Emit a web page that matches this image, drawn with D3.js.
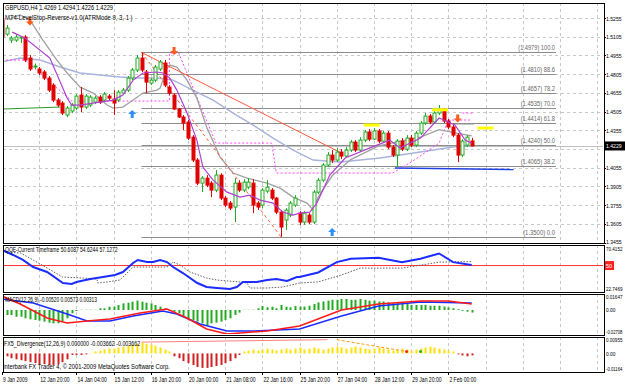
<!DOCTYPE html>
<html><head><meta charset="utf-8">
<script src="https://cdn.jsdelivr.net/npm/d3@7"></script>
<style>body{margin:0;background:#fff}svg{display:block}text{font-family:"Liberation Sans",Arial,sans-serif}</style>
</head><body><svg id="c" width="625" height="384"></svg>
<script>
// ---------- DATA ----------
const symbolLine = "GBPUSD,H4  1.4269 1.4294 1.4226 1.4229";
const indicatorLine = "MT4-LevelStop-Reverse-v1.0(ATRMode 9, 3, 1 )";
const timeLabels = ["9 Jan 2009","12 Jan 20:00","14 Jan 04:00","15 Jan 12:00","16 Jan 20:00","20 Jan 00:00","21 Jan 08:00","22 Jan 16:00","25 Jan 20:00","27 Jan 04:00","28 Jan 12:00","29 Jan 20:00","2 Feb 00:00"];
const priceTicks = [1.3455,1.3605,1.3755,1.3905,1.4055,1.4205,1.4355,1.4505,1.4655,1.4805,1.4955,1.5105,1.5255];
const lastPrice = 1.4229;

const opens = [1.5239,1.5126,1.5078,1.5078,1.5094,1.5102,1.4934,1.4862,1.4846,1.4822,1.4773,1.4717,1.4597,1.4573,1.4477,1.4509,1.4533,1.4637,1.4541,1.4557,
1.4581,1.4621,1.4597,1.4629,1.4605,1.4597,1.4653,1.4677,1.4773,1.4838,1.4934,1.4822,1.4733,1.4757,1.4846,1.4894,1.4701,1.4637,1.4525,1.4461,
1.4421,1.4300,1.4116,1.3931,1.3971,1.3931,1.3875,1.3995,1.3811,1.3771,1.3739,1.3931,1.3875,1.3899,1.3931,1.3771,1.3755,1.3867,1.3875,1.3811,
1.3699,1.3635,1.3675,1.3755,1.3691,1.3619,1.3675,1.3619,1.3859,1.3955,1.4076,1.4156,1.4116,1.4180,1.4148,1.4196,1.4260,1.4196,1.4276,1.4341,
1.4284,1.4349,1.4268,1.4332,1.4220,1.4156,1.4268,1.4204,1.4292,1.4236,1.4332,1.4413,1.4469,1.4421,1.4493,1.4517,1.4429,1.4381,1.4316,1.4156,
1.4236,1.4269];
const highs = [1.5263,1.5199,1.5110,1.5126,1.5110,1.5118,1.4958,1.4890,1.4862,1.4838,1.4790,1.4733,1.4613,1.4589,1.4549,1.4573,1.4645,1.4701,1.4645,1.4637,
1.4629,1.4637,1.4661,1.4645,1.4677,1.4677,1.4693,1.4790,1.4854,1.4958,1.4979,1.4838,1.4773,1.4878,1.4918,1.4918,1.4717,1.4653,1.4533,1.4477,
1.4437,1.4316,1.4132,1.3987,1.3995,1.3947,1.4036,1.4010,1.3827,1.3787,1.3971,1.3955,1.3963,1.3971,1.3963,1.3787,1.3891,1.3955,1.3891,1.3819,
1.3715,1.3731,1.3787,1.3835,1.3707,1.3707,1.3691,1.3875,1.3971,1.4092,1.4180,1.4196,1.4212,1.4204,1.4220,1.4276,1.4276,1.4300,1.4357,1.4365,
1.4373,1.4365,1.4349,1.4349,1.4236,1.4284,1.4292,1.4316,1.4316,1.4349,1.4429,1.4493,1.4485,1.4517,1.4557,1.4533,1.4445,1.4397,1.4332,1.4284,
1.4316,1.4294];
const lows = [1.5086,1.5110,1.5054,1.5062,1.5054,1.4902,1.4830,1.4846,1.4798,1.4757,1.4661,1.4581,1.4541,1.4477,1.4461,1.4493,1.4517,1.4501,1.4525,1.4541,
1.4565,1.4565,1.4581,1.4597,1.4477,1.4581,1.4645,1.4661,1.4757,1.4822,1.4822,1.4653,1.4717,1.4741,1.4830,1.4701,1.4637,1.4517,1.4453,1.4357,
1.4276,1.4100,1.3915,1.3859,1.3899,1.3819,1.3859,1.3795,1.3739,1.3715,1.3619,1.3859,1.3859,1.3883,1.3691,1.3715,1.3731,1.3851,1.3795,1.3683,
1.3500,1.3554,1.3659,1.3739,1.3595,1.3595,1.3603,1.3603,1.3843,1.3939,1.4060,1.4092,1.4100,1.4124,1.4132,1.4180,1.4180,1.4180,1.4260,1.4268,
1.4276,1.4252,1.4252,1.4204,1.4140,1.4060,1.4188,1.4188,1.4220,1.4220,1.4316,1.4397,1.4405,1.4405,1.4477,1.4413,1.4365,1.4300,1.4100,1.4140,
1.4220,1.4226];
const closes = [1.5102,1.5174,1.5094,1.5102,1.5102,1.4918,1.4846,1.4870,1.4814,1.4773,1.4677,1.4597,1.4557,1.4493,1.4533,1.4557,1.4629,1.4541,1.4629,1.4621,
1.4613,1.4581,1.4645,1.4613,1.4573,1.4661,1.4677,1.4773,1.4838,1.4934,1.4838,1.4741,1.4757,1.4862,1.4902,1.4717,1.4653,1.4525,1.4461,1.4413,
1.4292,1.4116,1.3931,1.3971,1.3915,1.3875,1.3996,1.3811,1.3755,1.3731,1.3931,1.3875,1.3939,1.3939,1.3755,1.3739,1.3875,1.3899,1.3811,1.3699,
1.3579,1.3715,1.3771,1.3811,1.3619,1.3691,1.3619,1.3859,1.3955,1.4076,1.4156,1.4116,1.4180,1.4148,1.4196,1.4260,1.4196,1.4276,1.4341,1.4284,
1.4349,1.4268,1.4332,1.4220,1.4156,1.4268,1.4204,1.4292,1.4236,1.4332,1.4413,1.4469,1.4421,1.4493,1.4517,1.4429,1.4381,1.4316,1.4156,1.4268,
1.4300,1.4229];

// overlay lines as [bar, price]
const maGray = [[1.7,1.5239],[2.4,1.5263],[3.9,1.5279],[6,1.5239],[8.8,1.5078],[11.8,1.4918],[14,1.4814],[16.8,1.4701],[19.6,1.4653],[22.6,1.4557],[23.9,1.4533],[26,1.4541],[28.2,1.4597],[30.3,1.4653],[33.3,1.4677],[34,1.4693],[35.5,1.4854],[36.1,1.4878],[37.6,1.4862],[39.8,1.4757],[41.9,1.4613],[44,1.4381],[46.9,1.4140],[49.7,1.4012],[52.7,1.3971],[57,1.3931],[59.8,1.3891],[62.6,1.3819],[65.6,1.3771],[66.9,1.3715],[68,1.3819],[71,1.3990],[75,1.4120],[81,1.4230],[86,1.4270],[90,1.4300],[94,1.4360],[98,1.4330],[101,1.4310]];
const maPurple = [[2.2,1.5142],[4.9,1.5094],[10.3,1.4934],[14,1.4613],[15,1.4557],[16.8,1.4557],[21,1.4581],[23.9,1.4597],[26,1.4637],[28.2,1.4757],[30.3,1.4814],[33.3,1.4822],[34.6,1.4814],[36.1,1.4773],[37.6,1.4677],[39.8,1.4493],[41.9,1.4276],[43.2,1.4060],[45.4,1.3955],[48.4,1.3859],[51.2,1.3819],[53.3,1.3835],[55.5,1.3795],[58.3,1.3771],[60.4,1.3699],[62.6,1.3675],[64,1.3691],[66.2,1.3699],[67.7,1.3771],[70.5,1.3996],[73.8,1.4132],[79,1.4212],[83.4,1.4276],[85.6,1.4212],[90,1.4292],[94,1.4453],[97.4,1.4397],[99.6,1.4276],[101,1.4252]];
const maBlue = [[0,1.4902],[3.9,1.4934],[8.2,1.4918],[12.5,1.4862],[16.8,1.4814],[21,1.4798],[25.4,1.4781],[29.7,1.4773],[33.3,1.4773],[36.8,1.4757],[41,1.4677],[45.4,1.4597],[49.7,1.4493],[54,1.4397],[58.3,1.4292],[62.6,1.4196],[66.9,1.4116],[72.7,1.4100],[81.3,1.4132],[90,1.4180],[97,1.4220],[101,1.4228]];
const levelStop = [[0,1.4918],[5,1.4918],[15,1.4589],[36,1.4589],[36,1.4974],[38,1.4974],[46,1.4252],[58,1.4252],[59,1.4012],[72,1.4012],[84,1.4012],[88,1.4100],[94,1.4252],[96,1.4437],[101,1.4437]];
const trendLine = [[30,1.4979],[73,1.4172]];
const zigzag = [[30,1.4979],[60,1.3500]];
const supportLine = [[84.5,1.4052],[110,1.4040]];
const leftGreenLine = [[0,1.4525],[12.5,1.4541]];
const grayStub = [[97,1.4405],[101.5,1.4405]];
const pinkStub = [[99,1.4493],[101.5,1.4493]];

const fibPrices = [1.4979,1.4810,1.4657,1.4535,1.4414,1.4240,1.4065,1.3500];
const fibNames = ["100.0","88.6","78.2","70.0","61.8","50.0","38.2","0.0"];

const downArrows = [[6,1.5227],[37,1.4990],[98,1.4449]];
const upArrows = [[28,1.4485],[71,1.3540]];
const yellowMarks = [[79.5,1.4397],[94.2,1.4519],[104,1.4373]];

// QQE panel
const qqeTitle = "QQE-Current Timeframe 50.6087 54.6244 57.1272";
const qqeRange = [22.7469, 70.4152];
const qqeFast = [[0,68.1],[2.4,62.3],[4.5,56.5],[6.7,48.3],[9.7,42.5],[13.1,29.7],[15,28.6],[16,30.9],[19,34.4],[21.7,36.7],[24.3,39.0],[26,42.5],[28.2,53.0],[29.2,56.5],[31.2,54.1],[32.5,54.1],[34,56.5],[35.5,54.1],[36.8,48.3],[38.9,41.3],[42,29.7],[44,25.1],[46.2,23.9],[49,22.7],[50.5,25.1],[51.8,30.9],[54.8,30.9],[57,33.2],[59,34.4],[61.3,32.0],[63.4,36.7],[64,36.7],[68,42],[72,54],[75,58],[81,59],[86,54],[90,58],[94,64],[97,54],[101,50.6]];
const qqeSlow = [[0,66],[4,64.6],[6.7,56.5],[9.7,47.2],[13,36.7],[17.4,35.5],[20.4,34.4],[20.6,29.7],[22.6,30.9],[25.4,33.2],[26.9,41.3],[28.2,48.3],[33.3,48.3],[35.5,48.3],[36.8,54.1],[38.3,50.6],[40.4,42.5],[44,35.5],[46.2,33.2],[51.2,30.9],[52.7,29.7],[53.3,23.9],[57,23.9],[60.4,25.1],[64,29.7],[68,31],[73,39],[77,47],[86,47],[94,54],[101,54.6]];

// MACD panel
const macdTitle = "MACD(12,26,9) -0.00520 0.00573 0.00313";
const macdRange = [-0.02708, 0.01647];
const macdHist = [-0.0039,-0.0059,-0.0059,-0.0079,-0.0079,-0.0098,-0.0110,-0.0118,-0.0126,-0.0137,-0.0149,-0.0157,-0.0157,-0.0137,-0.0098,-0.0039,-0.0012,0.0003,0.0003,0.0003,
0.0003,0.0020,0.0020,0.0039,0.0039,0.0059,0.0078,0.0086,0.0098,0.0110,0.0098,0.0086,0.0078,0.0059,0.0039,0.0020,-0.0008,-0.0020,-0.0039,-0.0078,
-0.0098,-0.0118,-0.0137,-0.0157,-0.0177,-0.0157,-0.0149,-0.0137,-0.0118,-0.0098,-0.0059,-0.0031,0.0003,0.0003,0.0003,0.0020,0.0047,0.0031,0.0039,0.0020,
0.0059,0.0039,0.0031,0.0047,0.0039,0.0040,0.0050,0.0070,0.0090,0.0100,0.0110,0.0120,0.0120,0.0130,0.0130,0.0120,0.0120,0.0130,0.0120,0.0110,
0.0110,0.0100,0.0100,0.0090,0.0080,0.0080,0.0070,0.0070,0.0060,0.0060,0.0060,0.0060,0.0050,0.0050,0.0050,0.0040,0.0030,0.0020,0.0010,-0.0010,
-0.0020,-0.0030];
const macdRed = [[0,0.0165],[3.9,0.0071],[9.7,-0.0094],[14,-0.0153],[18.3,-0.0130],[23.2,-0.0106],[29.7,-0.0035],[35.5,0.0012],[39.8,-0.0094],[44,-0.0224],[48.4,-0.0283],[51.2,-0.0271],[57,-0.0247],[64,-0.0188],[73,0.0],[81,0.0071],[90,0.0106],[96,0.0106],[101,0.0071]];
const macdBlue = [[0,0.0129],[6.7,0.0082],[14,-0.0047],[18.3,-0.0130],[23.2,-0.0130],[28.2,-0.0071],[34.6,-0.0012],[37.6,-0.0047],[42.6,-0.0165],[48.4,-0.0247],[54,-0.0247],[64,-0.0224],[73,-0.0070],[81,0.0047],[90,0.0094],[101,0.0082]];

// FX5 panel
const fxTitle = "FX5_Divergence(12,26,9) 0.000000 -0.003662 -0.003662";
const fxRange = [-0.01164, 0.00955];
const fxHist = [0,-0.0019,-0.0032,-0.0039,-0.0045,-0.0051,-0.0058,-0.0064,-0.0071,-0.0071,-0.0077,-0.0077,-0.0071,-0.0058,-0.0039,-0.0010,-0.0010,-0.0010,-0.0006,0.0003,
0.0013,0.0019,0.0026,0.0032,0.0032,0.0039,0.0045,0.0051,0.0058,0.0064,0.0071,0.0064,0.0058,0.0051,0.0039,0.0026,0.0013,-0.0019,-0.0032,-0.0051,
-0.0064,-0.0077,-0.0090,-0.0096,-0.0096,-0.0090,-0.0083,-0.0077,-0.0064,-0.0051,-0.0032,-0.0010,0.0013,0.0019,0.0026,0.0019,0.0026,0.0032,0.0026,0.0019,
0.0026,0.0032,0.0026,0.0032,0.0039,0.0026,0.0032,0.0039,0.0032,0.0026,0.0032,0.0039,0.0045,0.0039,0.0032,0.0039,0.0045,0.0039,0.0032,0.0026,
0.0032,0.0039,0.0032,0.0026,0.0019,0.0026,0.0032,0.0026,0.0019,0.0026,0.0032,0.0039,0.0045,0.0039,0.0032,0.0026,0.0019,0.0013,-0.0006,-0.0013,
-0.0019,-0.0013];
const fxLine1 = [[30,0.0075],[70,0.0091]];
const fxLine2 = [[72,0.0091],[87,0.0013]];
const fxDots = [[87,0.0013,"#ff2020"],[90,0.0013,"#20b020"]];
const copyright = "Interbank FX Trader 4, © 2001-2009 MetaQuotes Software Corp.";

// ---------- LAYOUT ----------
const svg = d3.select("#c");
const L = 3, R = 604;
const panels = {
  main: {top: 3, bottom: 243},
  qqe: {top: 245, bottom: 292},
  macd: {top: 294, bottom: 335},
  fx: {top: 337, bottom: 372}
};
const x = d3.scaleLinear().domain([0,128]).range([2, 2+128*4.65]);
const y = d3.scaleLinear().domain([1.3455,1.5255]).range([242.5,18]);
const yq = d3.scaleLinear().domain(qqeRange).range([289,248]);
const ym = d3.scaleLinear().domain(macdRange).range([333,296]);
const yf = d3.scaleLinear().domain(fxRange).range([371,339]);

const gridC = "#c8c8c8";
Object.entries(panels).forEach(([k,p])=>{
  svg.append("clipPath").attr("id","clip-"+k).append("rect").attr("x",L+1).attr("y",p.top+1).attr("width",R-L-2).attr("height",p.bottom-p.top-2);
});
function layer(k){ return svg.append("g").attr("clip-path","url(#clip-"+k+")"); }
function txt(g,xx,yy,s,size,perChar,opts={}){
  const t = g.append("text").attr("x",xx).attr("y",yy).attr("font-size",size).text(s);
  if(perChar) t.attr("textLength",s.length*perChar).attr("lengthAdjust","spacingAndGlyphs");
  if(opts.fill) t.attr("fill",opts.fill);
  if(opts.anchor) t.attr("text-anchor",opts.anchor);
  return t;
}

// grids
const vTicks = d3.range(0,129,8);
Object.entries(panels).forEach(([k,p])=>{
  const g = layer(k);
  g.selectAll("line.v").data(vTicks).join("line")
    .attr("x1",d=>Math.round(x(d))+0.5).attr("x2",d=>Math.round(x(d))+0.5).attr("y1",p.top).attr("y2",p.bottom)
    .attr("stroke",gridC).attr("stroke-dasharray","3,3").attr("stroke-width",1);
});
const gm = layer("main");
gm.selectAll("line.h").data(priceTicks).join("line")
  .attr("x1",L).attr("x2",R).attr("y1",d=>Math.round(y(d))+0.5).attr("y2",d=>Math.round(y(d))+0.5)
  .attr("stroke",gridC).attr("stroke-dasharray","3,3");

// fib lines
gm.selectAll("line.fib").data(fibPrices).join("line")
  .attr("x1",x(30)).attr("x2",556).attr("y1",d=>Math.round(y(d))+0.5).attr("y2",d=>Math.round(y(d))+0.5)
  .attr("stroke","#8c8c8c").attr("stroke-width",1);
fibPrices.forEach((d,i)=>{
  const s = "("+d.toFixed(4)+")  "+fibNames[i];
  txt(gm,555,y(d)-2,s,6.5,2.45,{fill:"#666",anchor:"end"});
});

// bid line
gm.append("line").attr("x1",L).attr("x2",R).attr("y1",Math.round(y(lastPrice))+0.5).attr("y2",Math.round(y(lastPrice))+0.5).attr("stroke","#c0c0c0");

const line = (ys)=> d3.line().x(d=>x(d[0])).y(d=>ys(d[1]));
gm.append("path").attr("d",line(y)(leftGreenLine)).attr("fill","none").attr("stroke","#2a9a2a");
gm.append("path").attr("d",line(y)(maBlue)).attr("fill","none").attr("stroke","#a8b4dc").attr("stroke-width",1.5);
gm.append("path").attr("d",line(y)(levelStop)).attr("fill","none").attr("stroke","#ff44ff").attr("stroke-dasharray","2,2");
gm.append("path").attr("d",line(y)(maGray)).attr("fill","none").attr("stroke","#a0a0a0").attr("stroke-width",1.3);
gm.append("path").attr("d",line(y)(trendLine)).attr("fill","none").attr("stroke","#ff5a3c");
gm.append("path").attr("d",line(y)(zigzag)).attr("fill","none").attr("stroke","#ff5a3c").attr("stroke-dasharray","3,3");
gm.append("path").attr("d",line(y)(supportLine)).attr("fill","none").attr("stroke","#2040e0").attr("stroke-width",1.5);
gm.append("path").attr("d",line(y)(grayStub)).attr("fill","none").attr("stroke","#909090");
gm.append("path").attr("d",line(y)(pinkStub)).attr("fill","none").attr("stroke","#ff44ff").attr("stroke-dasharray","2,2");

// candles
const n = opens.length;
const cd = d3.range(n).map(i=>({i,o:opens[i],h:highs[i],l:lows[i],c:closes[i]}));
const cg = gm.append("g");
cg.selectAll("line.w").data(cd).join("line")
  .attr("x1",d=>Math.round(x(d.i))+0.5).attr("x2",d=>Math.round(x(d.i))+0.5)
  .attr("y1",d=>y(d.h)).attr("y2",d=>y(d.l))
  .attr("stroke",d=>d.c>=d.o?"#22aa22":"#e00000");
cg.selectAll("rect").data(cd).join("rect")
  .attr("x",d=>Math.round(x(d.i))-1).attr("width",3)
  .attr("y",d=>y(Math.max(d.o,d.c))).attr("height",d=>Math.max(1,Math.abs(y(d.o)-y(d.c))))
  .attr("fill",d=>d.c>=d.o?"#fff":"#e00000").attr("stroke",d=>d.c>=d.o?"#22aa22":"#e00000").attr("stroke-width",1);

gm.append("path").attr("d",line(y)(maPurple)).attr("fill","none").attr("stroke","#b040d0").attr("stroke-width",1.2);

// yellow marks
gm.selectAll("rect.ym").data(yellowMarks).join("rect")
  .attr("x",d=>x(d[0])-8).attr("y",d=>y(d[1])-1.5).attr("width",16).attr("height",3).attr("fill","#ffff00");
// arrows
function arrow(g,cx,cy,s,col){
  g.append("path").attr("d",`M${cx-1.5},${cy-4*s}L${cx+1.5},${cy-4*s}L${cx+1.5},${cy}L${cx+4},${cy}L${cx},${cy+4*s}L${cx-4},${cy}L${cx-1.5},${cy}Z`).attr("fill",col);
}
downArrows.forEach(d=>arrow(gm,x(d[0]),y(d[1]),1,"#ff5a1e"));
upArrows.forEach(d=>arrow(gm,x(d[0]),y(d[1]),-1,"#2b8fff"));

// price axis
const axg = svg.append("g");
const AX = R+2;
priceTicks.forEach(p=>{
  axg.append("line").attr("x1",R).attr("x2",R+2).attr("y1",Math.round(y(p))+0.5).attr("y2",Math.round(y(p))+0.5).attr("stroke","#000");
  if (Math.abs(y(p)-y(lastPrice))<7) return; // hidden behind the price box
  const yy = p===priceTicks[0] ? y(p)+1 : y(p)+2.5;
  txt(axg,AX,yy,p.toFixed(4),6,2.6);
});
axg.append("rect").attr("x",R+1).attr("y",y(lastPrice)-4.5).attr("width",20).attr("height",9).attr("fill","#000");
txt(axg,AX,y(lastPrice)+2.5,lastPrice.toFixed(4),6,2.6,{fill:"#fff"});

// QQE
const gq = layer("qqe");
gq.append("line").attr("x1",L).attr("x2",R).attr("y1",yq(50)).attr("y2",yq(50)).attr("stroke","#ff3030");
gq.append("path").attr("d",line(yq)(qqeSlow)).attr("fill","none").attr("stroke","#606060").attr("stroke-dasharray","1.5,1.5");
gq.append("path").attr("d",line(yq)(qqeFast)).attr("fill","none").attr("stroke","#1a2cff").attr("stroke-width",2);
txt(axg,AX,panels.qqe.top+6,qqeRange[1].toFixed(4),5.6,2.35);
txt(axg,AX,panels.qqe.bottom-1,qqeRange[0].toFixed(4),5.6,2.35);
axg.append("rect").attr("x",R+1).attr("y",yq(50)-4.5).attr("width",9).attr("height",9).attr("fill","#ff2020");
txt(axg,R+2,yq(50)+2.5,"50",6,3,{fill:"#fff"});

// MACD
const gmc = layer("macd");
gmc.selectAll("line.hb").data(macdHist).join("line")
  .attr("x1",(d,i)=>Math.round(x(i))+0.5).attr("x2",(d,i)=>Math.round(x(i))+0.5)
  .attr("y1",ym(0)).attr("y2",d=>ym(d)).attr("stroke","#22aa22").attr("stroke-width",2);
gmc.append("path").attr("d",line(ym)(macdBlue)).attr("fill","none").attr("stroke","#1a2cff").attr("stroke-width",1.6);
gmc.append("path").attr("d",line(ym)(macdRed)).attr("fill","none").attr("stroke","#ff1a1a").attr("stroke-width",1.6);
txt(axg,AX,panels.macd.top+5,macdRange[1].toFixed(5),5.6,2.35);
txt(axg,AX,ym(0)+2.5,"0.00",5.6,2.35);
txt(axg,AX,panels.macd.bottom-1,macdRange[0].toFixed(5),5.2,2.05);

// FX5
const gf = layer("fx");
gf.selectAll("line.fb").data(fxHist).join("line")
  .attr("x1",(d,i)=>Math.round(x(i))+0.5).attr("x2",(d,i)=>Math.round(x(i))+0.5)
  .attr("y1",yf(0)).attr("y2",d=>yf(d)).attr("stroke",d=>d>=0?"#ffe000":"#d02020").attr("stroke-width",2);
gf.append("path").attr("d",line(yf)(fxLine1)).attr("fill","none").attr("stroke","#ff8080");
gf.append("path").attr("d",line(yf)(fxLine2)).attr("fill","none").attr("stroke","#ff9900").attr("stroke-dasharray","3,2");
gf.selectAll("circle").data(fxDots).join("circle").attr("cx",d=>x(d[0])).attr("cy",d=>yf(d[1])).attr("r",1.5).attr("fill",d=>d[2]);
txt(axg,AX,panels.fx.top+5,fxRange[1].toFixed(5),5.6,2.35);
txt(axg,AX,yf(0)+2.5,"0.00",5.6,2.35);
txt(axg,AX,panels.fx.bottom-1,fxRange[0].toFixed(5),5.2,2.05);

// frames
Object.values(panels).forEach(p=>{
  svg.append("rect").attr("x",L+0.5).attr("y",p.top+0.5).attr("width",R-L).attr("height",p.bottom-p.top).attr("fill","none").attr("stroke","#000");
});

// titles
const tg = svg.append("g");
txt(tg,5,10,symbolLine,7,2.84);
txt(tg,5,20,indicatorLine,7,2.9);
txt(tg,5,252,qqeTitle,7,2.5);
txt(tg,5,302,macdTitle,7,2.42);
txt(tg,4,346,fxTitle,7,2.62);
txt(tg,3,369,copyright,7,2.78);

// time axis
timeLabels.forEach((t,k)=>{
  const xx = x(k*8);
  svg.append("line").attr("x1",Math.round(xx)+0.5).attr("x2",Math.round(xx)+0.5).attr("y1",372).attr("y2",375).attr("stroke","#000");
  txt(svg,xx+1,381.5,t,6.5,2.45);
});
</script></body></html>
